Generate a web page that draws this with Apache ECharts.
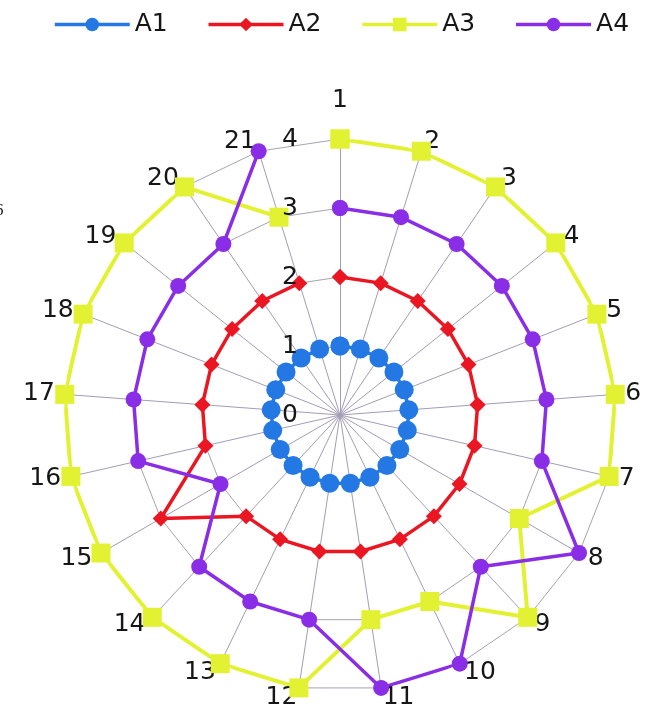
<!DOCTYPE html>
<html>
<head>
<meta charset="utf-8">
<script src="https://cdn.jsdelivr.net/npm/echarts@6/dist/echarts.min.js"></script>
<style>
  html, body { margin: 0; padding: 0; background: #ffffff; }
  #chart { width: 653px; height: 716px; }
</style>
</head>
<body>
<div id="chart"></div>
<script>
// Category names around the web (clockwise from the top)
const categories = ['1','2','3','4','5','6','7','8','9','10','11','12','13','14','15','16','17','18','19','20','21'];

// Series values, one per category
const seriesNames = ['A1', 'A2', 'A3', 'A4'];
const valuesA1 = [1,1,1,1,1,1,1,1,1,1,1,1,1,1,1,1,1,1,1,1,1];
const valuesA2 = [2,2,2,2,2,2,2,2,2,2,2,2,2,2,3,2,2,2,2,2,2];
const valuesA3 = [4,4,4,4,4,4,4,3,4,3,3,4,4,4,4,4,4,4,4,4,3];
const valuesA4 = [3,3,3,3,3,3,3,4,3,4,4,3,3,3,2,3,3,3,3,3,4];

// Value scale
const valueMin = 0;
const valueMax = 4;
const valueStep = 1;

const CENTER = [340, 415];
const RADIUS = 276;
const FONT = 'DejaVu Sans';
const TEXT = '#161616';

// closed loop: [radius, categoryIndex] pairs, returning to the first spoke
function loop(values) {
  const pts = values.map((v, i) => [v, i]);
  pts.push([values[0], 0]);
  return pts;
}

// the radar web runs counter-clockwise, so list its spokes as 1, 21, 20, ... 2
const webOrder = categories.map((c, i) => (categories.length - i) % categories.length);

const styles = [
  { color: '#2478e4', symbol: 'circle',  size: 19, width: 3.5 },
  { color: '#ea1622', symbol: 'diamond', size: 16, width: 3.5 },
  { color: '#e2f232', symbol: 'rect',    size: 19, width: 4 },
  { color: '#8a2de6', symbol: 'circle',  size: 16, width: 3.5 }
];
const allValues = [valuesA1, valuesA2, valuesA3, valuesA4];

const chart = echarts.init(document.getElementById('chart'), null, { renderer: 'canvas' });

chart.setOption({
  backgroundColor: '#ffffff',
  animation: false,
  legend: {
    top: 7,
    left: 48,
    itemWidth: 75,
    itemHeight: 17,
    itemGap: 39,
    lineStyle: { width: 3.5 },
    textStyle: { fontFamily: FONT, fontSize: 25, color: TEXT },
    data: seriesNames
  },
  // polygon web: spokes, rings and the category names
  radar: {
    center: CENTER,
    radius: RADIUS,
    startAngle: 90,
    shape: 'polygon',
    splitNumber: (valueMax - valueMin) / valueStep,
    nameGap: 10,
    indicator: webOrder.map((idx, k) => ({
      name: categories[idx],
      min: valueMin,
      max: valueMax,
      nameGap: k === 0 ? 26 : 10
    })),
    axisName: { fontFamily: FONT, fontSize: 25, color: TEXT },
    axisLine: { lineStyle: { color: '#a39cb6', width: 1 } },
    splitLine: { lineStyle: { color: '#a6a3b0', width: 1 } },
    splitArea: { show: false },
    axisLabel: { show: false },
    axisTick: { show: false }
  },
  polar: { center: CENTER, radius: RADIUS },
  angleAxis: {
    type: 'category',
    data: categories,
    startAngle: 90,
    clockwise: true,
    boundaryGap: false,
    axisLine: { show: false },
    axisTick: { show: false },
    splitLine: { show: false },
    axisLabel: { show: false }
  },
  radiusAxis: {
    type: 'value',
    min: valueMin,
    max: valueMax,
    interval: valueStep,
    axisLine: { show: false },
    axisTick: { show: false },
    splitLine: { show: false },
    axisLabel: { margin: 42, fontFamily: FONT, fontSize: 25, color: TEXT },
    z: 10
  },
  series: seriesNames.map((name, k) => ({
    name: name,
    type: 'line',
    coordinateSystem: 'polar',
    data: loop(allValues[k]),
    clip: false,
    symbol: styles[k].symbol,
    symbolSize: styles[k].size,
    showSymbol: true,
    showAllSymbol: true,
    lineStyle: { color: styles[k].color, width: styles[k].width },
    itemStyle: { color: styles[k].color },
    z: 3 + k
  })),
  graphic: [
    {
      type: 'text',
      left: -5,
      top: 202,
      style: { text: '6', fontFamily: 'Liberation Serif', fontSize: 17, fill: TEXT }
    }
  ]
});
</script>
</body>
</html>
